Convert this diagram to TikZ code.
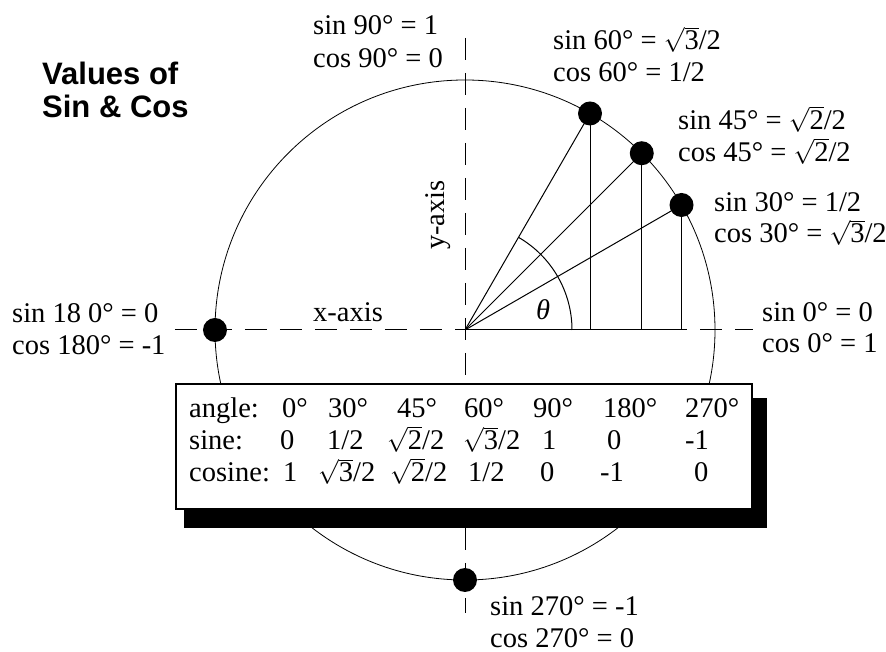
\documentclass[tikz,border=0pt]{standalone}
\usepackage{fontspec}
\setmainfont{Liberation Serif}
\newfontfamily\titlefont{Liberation Sans}
\newcommand{\rt}[1]{$\sqrt{\mbox{#1}}$}

\begin{document}
\begin{tikzpicture}[x=1pt,y=1pt,
  lbl/.style={font=\fontsize{28.5}{32}\selectfont,anchor=base west,inner sep=0pt},
  ttl/.style={font=\titlefont\bfseries\fontsize{31}{33}\selectfont,anchor=base west,inner sep=0pt},
  dot/.style={circle,fill,inner sep=0pt,minimum size=24pt},
  axisline/.style={line width=1pt,dash pattern=on 22pt off 13pt}]
  \useasboundingbox (-465,-322) rectangle (421,330);
  \coordinate (O) at (0,0);
  \coordinate (xl) at (-290,0);
  \coordinate (xr) at (288,0);
  \coordinate (yt) at (0,292);
  \coordinate (yb) at (0,-283);
  % unit circle and axes
  \draw[line width=.8pt] (O) circle[radius=250];
  \draw[axisline] (xl) -- (xr);
  \draw[axisline] (yt) -- (yb);
  % radii and their sines
  \foreach \a in {30,45,60} {
    \coordinate (p\a) at (\a:250);
    \draw[line width=1pt] (O) -- (p\a);
    \draw[line width=1pt] (p\a) -- (p\a |- O);}
  \draw[line width=1pt] (O) -- (p30 |- O);
  \draw[line width=1pt] ([shift={(0:107)}]O) arc[start angle=0,end angle=60,radius=107];
  \node[lbl,anchor=center,font=\fontsize{28.5}{32}\selectfont\itshape] (theta) at (78,20) {θ};
  % table
  \fill (-281,-68) rectangle (302,-198);
  \draw[line width=2.5pt,fill=white] (-289,-54) rectangle (287,-179);
  \foreach \tx/\tv [count=\i] in {-276/angle:,-183/0°,-137/30°,-68/45°,-1/60°,68/90°,138/180°,220/270°}
    \node[lbl] (ang\i) at (\tx,-88) {\tv};
  \foreach \tx/\tv [count=\i] in {-276/sine:,-185/0,-138/{1/2},-78/{\rt{2}/2},-2/{\rt{3}/2},77/1,142/0,220/-1}
    \node[lbl] (sin\i) at (\tx,-120) {\tv};
  \foreach \tx/\tv [count=\i] in {-276/cosine:,-182/1,-147/{\rt{3}/2},-75/{\rt{2}/2},3/{1/2},75/0,135/-1,229/0}
    \node[lbl] (cos\i) at (\tx,-152) {\tv};
  % points on the circle
  \foreach \a in {30,45,60,180,270}
    \node[dot] (d\a) at (\a:250) {};
  % labels
  \node[ttl] (title1) at (-423,245) {Values of};
  \node[ttl] (title2) at (-423,212) {Sin \& Cos};
  \node[lbl] (xlab) at (-152,8) {x-axis};
  \node[lbl,anchor=center,rotate=90] (ylab) at (-27,115) {y-axis};
  \node[lbl] (s90) at (-152,295) {sin 90° = 1};
  \node[lbl] (c90) at (-152,262) {cos 90° = 0};
  \node[lbl] (s60) at (88,280) {sin 60° = \rt{3}/2};
  \node[lbl] (c60) at (88,248) {cos 60° = 1/2};
  \node[lbl] (s45) at (213,200) {sin 45° = \rt{2}/2};
  \node[lbl] (c45) at (213,168) {cos 45° = \rt{2}/2};
  \node[lbl] (s30) at (249,118) {sin 30° = 1/2};
  \node[lbl] (c30) at (249,87) {cos 30° = \rt{3}/2};
  \node[lbl] (s0) at (297,8) {sin 0° = 0};
  \node[lbl] (c0) at (297,-23) {cos 0° = 1};
  \node[lbl] (s180) at (-453,7) {sin 18 0° = 0};
  \node[lbl] (c180) at (-453,-25) {cos 180° = -1};
  \node[lbl] (s270) at (25,-286) {sin 270° = -1};
  \node[lbl] (c270) at (25,-317) {cos 270° = 0};
\end{tikzpicture}
\end{document}
